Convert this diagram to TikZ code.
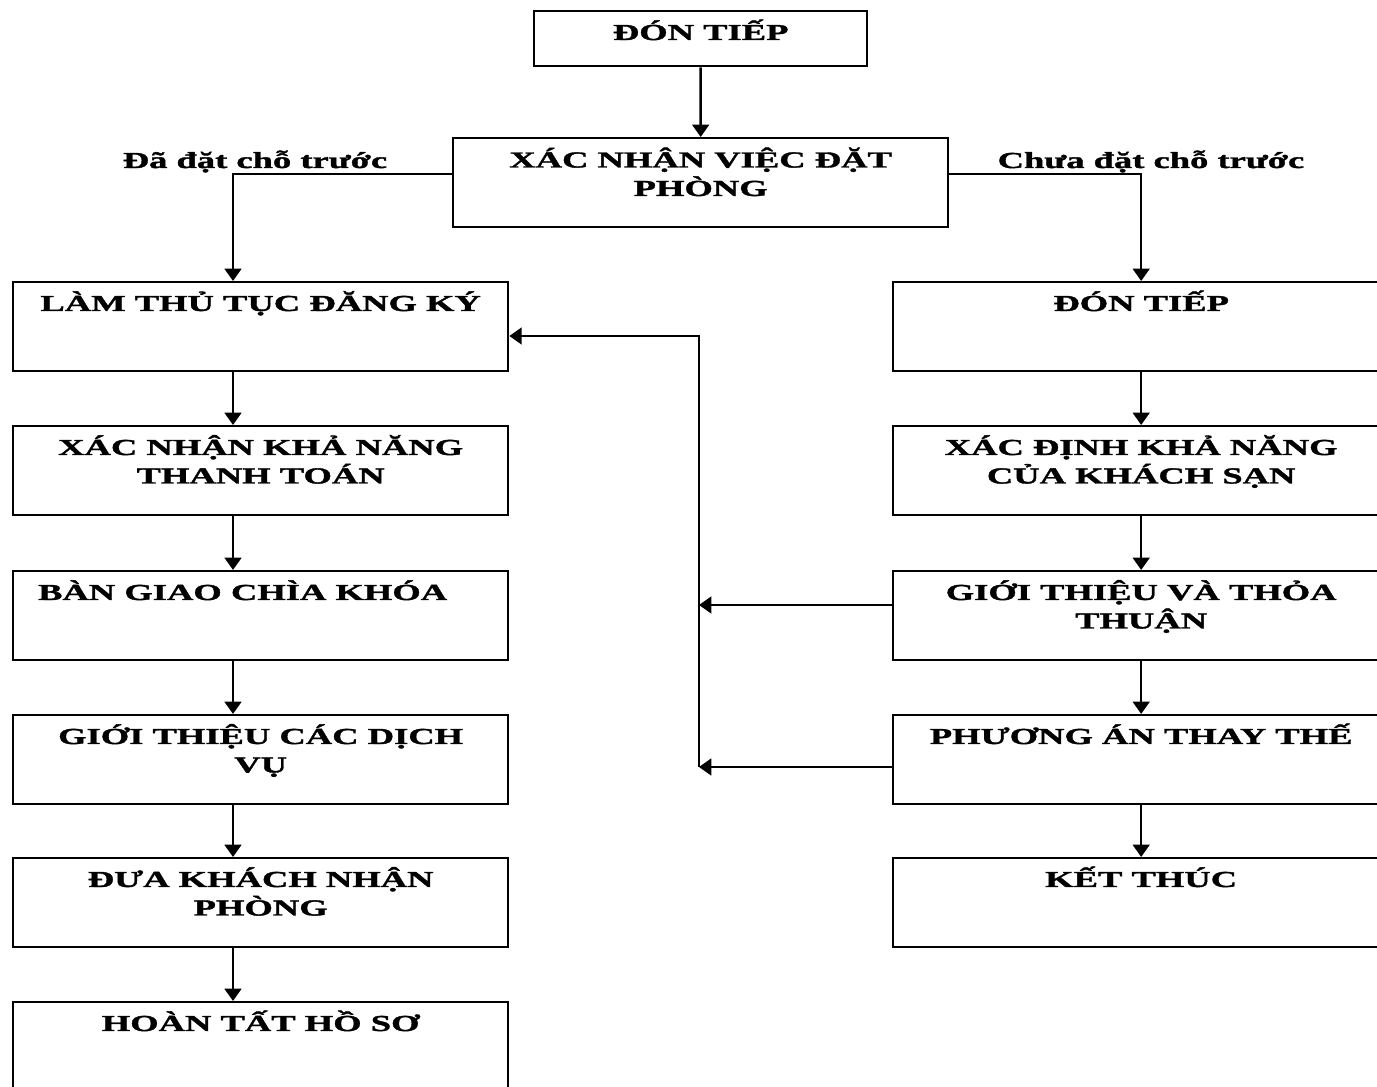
\documentclass[tikz,border=0pt]{standalone}
\usepackage{fontspec}
\usetikzlibrary{arrows.meta}
\newfontfamily\flowfont[FakeStretch=1.6,FakeBold=1.6]{Liberation Serif Bold}
\newcommand\flowtext[1]{\parbox[t]{9.6cm}{\centering #1}}
\begin{document}
\begin{tikzpicture}[x=0.02cm,y=-0.02cm,
  stepbox/.style={draw,line width=1.4pt,rectangle,inner sep=0pt,anchor=north west,
    minimum height=1.78cm},
  wide/.style={stepbox,minimum width=9.9cm},
  txt/.style={font=\flowfont\fontsize{13}{16.2}\selectfont,inner sep=0pt,anchor=base},
  conn/.style={line width=1.4pt},
  arr/.style={conn,-{Triangle[width=9.5pt,length=7pt]}}]
\useasboundingbox (0,0) rectangle (1377,1087);

% start and booking check
\node[stepbox,minimum width=6.66cm,minimum height=1.1cm] (don) at (533,10) {};
\node[stepbox,minimum width=9.9cm] (xn) at (452,137) {};

% left column: guest with a reservation
\node[wide] (lam) at (12,281) {};
\node[wide] (xnk) at (12,425) {};
\node[wide] (ban) at (12,570) {};
\node[wide] (gtdv) at (12,714) {};
\node[wide] (dua) at (12,857) {};
\node[wide] (hoan) at (12,1001) {};

% right column: guest without a reservation
\node[wide,minimum width=9.92cm] (don2) at (892,281) {};
\node[wide,minimum width=9.92cm] (xd) at (892,425) {};
\node[wide,minimum width=9.92cm] (gtt) at (892,570) {};
\node[wide,minimum width=9.92cm] (pa) at (892,714) {};
\node[wide,minimum width=9.92cm] (kt) at (892,857) {};

% box texts
\node[txt] (don-t) at ([yshift=-0.6cm]don.north) {ĐÓN TIẾP};
\node[txt] (xn-t) at ([yshift=-0.61cm]xn.north) {\flowtext{XÁC NHẬN VIỆC ĐẶT\\PHÒNG}};
\node[txt] (lam-t) at ([yshift=-0.6cm]lam.north) {\flowtext{LÀM THỦ TỤC ĐĂNG KÝ}};
\node[txt] (xnk-t) at ([yshift=-0.6cm]xnk.north) {\flowtext{XÁC NHẬN KHẢ NĂNG\\THANH TOÁN}};
\node[txt] (ban-t) at ([xshift=-0.36cm,yshift=-0.6cm]ban.north) {\flowtext{BÀN GIAO CHÌA KHÓA}};
\node[txt] (gtdv-t) at ([yshift=-0.6cm]gtdv.north) {\flowtext{GIỚI THIỆU CÁC DỊCH\\VỤ}};
\node[txt] (dua-t) at ([yshift=-0.6cm]dua.north) {\flowtext{ĐƯA KHÁCH NHẬN\\PHÒNG}};
\node[txt] (hoan-t) at ([yshift=-0.6cm]hoan.north) {\flowtext{HOÀN TẤT HỒ SƠ}};
\node[txt] (don2-t) at ([yshift=-0.6cm]don2.north) {\flowtext{ĐÓN TIẾP}};
\node[txt] (xd-t) at ([yshift=-0.6cm]xd.north) {\flowtext{XÁC ĐỊNH KHẢ NĂNG\\CỦA KHÁCH SẠN}};
\node[txt] (gtt-t) at ([yshift=-0.6cm]gtt.north) {\flowtext{GIỚI THIỆU VÀ THỎA\\THUẬN}};
\node[txt] (pa-t) at ([yshift=-0.6cm]pa.north) {\flowtext{PHƯƠNG ÁN THAY THẾ}};
\node[txt] (kt-t) at ([yshift=-0.6cm]kt.north) {\flowtext{KẾT THÚC}};

% branch labels
\node[txt] (lab-l) at (255,168) {Đã đặt chỗ trước};
\node[txt] (lab-r) at (1151,168) {Chưa đặt chỗ trước};

% column guides
\coordinate (colL) at (233,0);
\coordinate (jTop) at (699,336);
\coordinate (jMid) at (699,605);
\coordinate (jBot) at (699,767);

% main flow
\draw[arr] (don.south) -- (xn.north);
\draw[arr] ([yshift=0.17cm]xn.west) -| (lam.north -| colL);
\draw[arr] ([yshift=0.17cm]xn.east) -| (don2.north);

\draw[arr] (lam.south -| colL) -- (xnk.north -| colL);
\draw[arr] (xnk.south -| colL) -- (ban.north -| colL);
\draw[arr] (ban.south -| colL) -- (gtdv.north -| colL);
\draw[arr] (gtdv.south -| colL) -- (dua.north -| colL);
\draw[arr] (dua.south -| colL) -- (hoan.north -| colL);

\draw[arr] (don2.south) -- (xd.north);
\draw[arr] (xd.south) -- (gtt.north);
\draw[arr] (gtt.south) -- (pa.north);
\draw[arr] (pa.south) -- (kt.north);

% return paths to check-in
\draw[arr] (gtt.west |- jMid) -- (jMid);
\draw[arr] (pa.west |- jBot) -- (jBot);
\draw[arr] (jBot) -- (jTop) -- (lam.east |- jTop);
\end{tikzpicture}
\end{document}
